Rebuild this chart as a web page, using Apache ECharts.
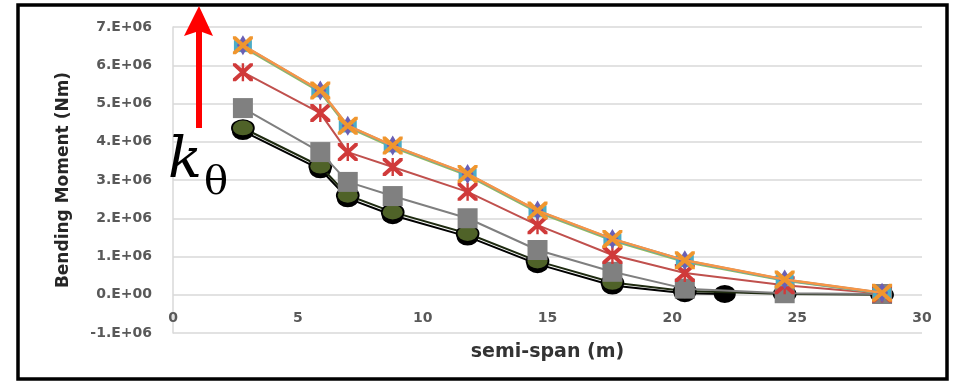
<!DOCTYPE html>
<html>
<head>
<meta charset="utf-8">
<script src="https://cdn.jsdelivr.net/npm/echarts@6/dist/echarts.min.js"></script>
<style>
html,body{margin:0;padding:0;background:#fff;}
#main{width:953px;height:381px;}
</style>
</head>
<body>
<div id="main"></div>
<script>
// semi-span positions (m)
var spanX = [2.8, 5.9, 7.0, 8.8, 11.8, 14.6, 17.6, 20.5, 24.5, 28.4];
var blackX = [2.8, 5.9, 7.0, 8.8, 11.8, 14.6, 17.6, 20.5, 22.1];
// bending moment (Nm)
var blackM = [4.28e6, 3.28e6, 2.52e6, 2.08e6, 1.52e6, 0.8e6, 0.24e6, 0.04e6, 0.02e6];
var oliveM = [4.36e6, 3.36e6, 2.6e6, 2.16e6, 1.6e6, 0.88e6, 0.32e6, 0.1e6, 0.02e6, 0.0];
var grayM = [4.88e6, 3.73e6, 2.95e6, 2.58e6, 2.0e6, 1.17e6, 0.6e6, 0.16e6, 0.04e6, 0.02e6];
var redM = [5.82e6, 4.75e6, 3.73e6, 3.34e6, 2.69e6, 1.82e6, 1.04e6, 0.57e6, 0.25e6, 0.03e6];
var greenM = [6.48e6, 5.3e6, 4.38e6, 3.86e6, 3.12e6, 2.16e6, 1.42e6, 0.86e6, 0.37e6, 0.04e6];
var blueM = [6.52e6, 5.34e6, 4.42e6, 3.9e6, 3.16e6, 2.2e6, 1.46e6, 0.9e6, 0.4e6, 0.05e6];
var cyanM = [6.5e6, 5.32e6, 4.4e6, 3.88e6, 3.14e6, 2.18e6, 1.44e6, 0.88e6, 0.38e6, 0.04e6];
var orangeM = [6.52e6, 5.34e6, 4.42e6, 3.9e6, 3.16e6, 2.2e6, 1.46e6, 0.9e6, 0.4e6, 0.05e6];

function pairs(xs, ys){
  var out = [];
  for (var i=0;i<ys.length;i++){ out.push([xs[i], ys[i]]); }
  return out;
}

var xMark = 'path://M0,0 L3,0 L10,7 L17,0 L20,0 L20,3 L13,10 L20,17 L20,20 L17,20 L10,13 L3,20 L0,20 L0,17 L7,10 L0,3 Z';
var starMark = xMark + ' M8.8,0 L11.2,0 L11.2,20 L8.8,20 Z';

var chart = echarts.init(document.getElementById('main'));
var font = 'DejaVu Sans';

function line(name, data, color, width, symbol, size, fill, border, z){
  return {
    name: name, type: 'line', data: data, z: z,
    symbol: symbol, symbolSize: size, showSymbol: true,
    lineStyle: {color: color, width: width},
    itemStyle: {color: fill, borderColor: border, borderWidth: border ? 1.5 : 0},
    emphasis: {disabled: true}
  };
}

chart.setOption({
  animation: false,
  backgroundColor: '#fff',
  grid: {left: 173, right: 31, top: 27, bottom: 48, outerBoundsMode: 'none', containLabel: false},
  xAxis: {
    type: 'value', min: 0, max: 30, interval: 5,
    name: 'semi-span (m)', nameLocation: 'middle', nameGap: 10, nameMoveOverlap: false,
    nameTextStyle: {fontFamily: font, fontWeight: 'bold', fontSize: 19, color: '#333', verticalAlign: 'top'},
    axisLine: {onZero: false, show: false},
    axisTick: {show: false},
    axisLabel: {margin: -22, fontFamily: font, fontWeight: 'bold', fontSize: 14, color: '#595959'},
    splitLine: {show: false}
  },
  yAxis: {
    type: 'value', min: -1e6, max: 7e6, interval: 1e6,
    name: 'Bending Moment (Nm)', nameLocation: 'middle', nameGap: 101,
    nameTextStyle: {fontFamily: font, fontWeight: 'bold', fontSize: 17, color: '#262626'},
    axisLine: {show: true, lineStyle: {color: '#d9d9d9', width: 1.5}},
    axisTick: {show: false},
    axisLabel: {
      margin: 21, fontFamily: font, fontWeight: 'bold', fontSize: 14, color: '#595959',
      formatter: function(v){ return v === 0 ? '0.E+00' : (v/1e6) + '.E+06'; }
    },
    splitLine: {lineStyle: {color: '#d9d9d9', width: 1.5}}
  },
  series: [
    line('black', pairs(blackX, blackM), '#000000', 2, 'circle', [22,18], '#000000', null, 2),
    line('olive', pairs(spanX, oliveM), '#1e2a10', 2, 'circle', [22,16], '#4f6228', '#000', 3),
    line('gray', pairs(spanX, grayM), '#7f7f7f', 2, 'rect', [20,20], '#808080', null, 4),
    line('red', pairs(spanX, redM), '#c0504d', 2, starMark, [20,18], '#d03a3a', null, 5),
    line('green', pairs(spanX, greenM), '#9bbb59', 2.5, 'none', 1, '#9bbb59', null, 6),
    line('cyan', pairs(spanX, cyanM), '#4bacc6', 2, 'rect', [18,12], '#4bacc6', null, 7),
    line('blue', pairs(spanX, blueM), '#4f81bd', 2, 'diamond', [12,20], '#6a5fb5', null, 8),
    line('orange', pairs(spanX, orangeM), '#f79646', 2.5, xMark, [20,18], '#f0962e', null, 9)
  ],
  graphic: [
    {type: 'rect', z: 100, silent: true,
     shape: {x: 18, y: 5, width: 929, height: 374},
     style: {fill: 'none', stroke: '#000', lineWidth: 3.5}},
    {type: 'polygon', z: 100, silent: true,
     shape: {points: [[196,128],[196,32],[184,36],[199,6],[213,36],[202,32],[202,128]]},
     style: {fill: '#ff0000'}},
    {type: 'text', z: 100, silent: true, left: 168, top: 134,
     style: {
       text: '{k|k}{t|θ}',
       rich: {
         k: {fontFamily: 'DejaVu Serif', fontStyle: 'italic', fontSize: 56, fill: '#000', verticalAlign: 'bottom'},
         t: {fontFamily: 'DejaVu Serif', fontSize: 40, fill: '#000', padding: [0,0,-14,2], verticalAlign: 'bottom'}
       }
     }}
  ]
});
</script>
</body>
</html>
